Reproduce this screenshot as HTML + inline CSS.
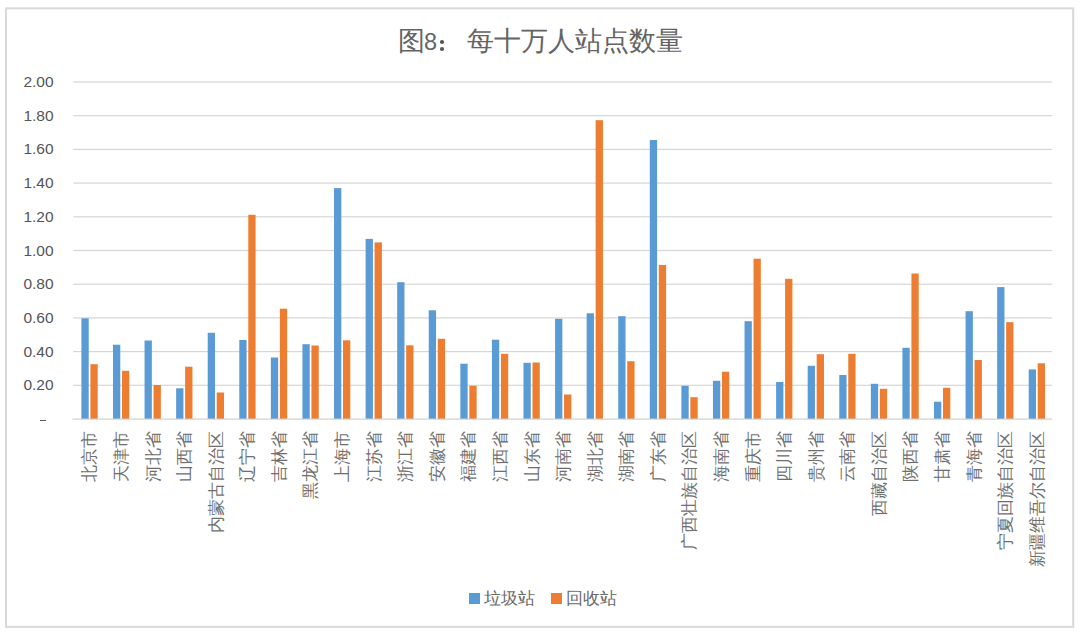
<!DOCTYPE html>
<html><head><meta charset="utf-8"><style>
html,body{margin:0;padding:0;background:#fff;width:1080px;height:633px;overflow:hidden}
body{position:relative;font-family:"Liberation Sans",sans-serif;color:#595959}
.t8{display:inline-block;width:15.01px;font-size:23.5px;position:relative;left:-1.5px}
.tc{display:inline-block;width:27px;height:0;position:relative}
.tc i{position:absolute;left:0.9px;width:3.6px;height:3.6px;border-radius:50%;background:#595959;margin-top:-1.8px}
.title{position:absolute;left:0;width:1080px;top:23.5px;text-align:center;font-size:27px;line-height:34px;color:#646464;white-space:nowrap}
.yl{position:absolute;right:1026.4px;font-size:15.5px;line-height:18px;text-align:right;color:#555555}
.dash{position:absolute;left:40px;top:420px;width:6px;height:1px;background:#595959}
.cat{position:absolute;top:431.2px;width:0;height:0}
.catw{position:absolute;right:0;top:0;transform-origin:100% 0;transform:rotate(-90deg);white-space:nowrap;font-size:17px;line-height:17px;color:#6e6e6e}
svg{position:absolute;left:0;top:0}
.leg{position:absolute;top:589.7px;font-size:17px;line-height:18px;white-space:nowrap;color:#6a6a6a}
.sq{position:absolute;top:593px;width:10.5px;height:10.5px}
</style></head><body>
<div class="title">图<span class="t8">8</span><span class="tc"><i style="top:-7.4px"></i><i style="top:-0.7px"></i></span>每十万人站点数量</div>
<svg width="1080" height="633" viewBox="0 0 1080 633"><rect x="6.0" y="8.35" width="1067.2" height="618.5" fill="none" stroke="#d9d8dc" stroke-width="2"/><rect x="73.3" y="81.40" width="978.90" height="1.2" fill="#d6d6d6"/><rect x="73.3" y="115.10" width="978.90" height="1.2" fill="#d6d6d6"/><rect x="73.3" y="148.80" width="978.90" height="1.2" fill="#d6d6d6"/><rect x="73.3" y="182.50" width="978.90" height="1.2" fill="#d6d6d6"/><rect x="73.3" y="216.20" width="978.90" height="1.2" fill="#d6d6d6"/><rect x="73.3" y="249.90" width="978.90" height="1.2" fill="#d6d6d6"/><rect x="73.3" y="283.60" width="978.90" height="1.2" fill="#d6d6d6"/><rect x="73.3" y="317.30" width="978.90" height="1.2" fill="#d6d6d6"/><rect x="73.3" y="351.00" width="978.90" height="1.2" fill="#d6d6d6"/><rect x="73.3" y="384.70" width="978.90" height="1.2" fill="#d6d6d6"/><rect x="81.40" y="318.30" width="7.3" height="100.70" fill="#5B9BD5"/><rect x="90.40" y="364.20" width="7.3" height="54.80" fill="#ED7D31"/><rect x="112.98" y="344.70" width="7.3" height="74.30" fill="#5B9BD5"/><rect x="121.98" y="370.80" width="7.3" height="48.20" fill="#ED7D31"/><rect x="144.55" y="340.50" width="7.3" height="78.50" fill="#5B9BD5"/><rect x="153.55" y="385.00" width="7.3" height="34.00" fill="#ED7D31"/><rect x="176.13" y="388.30" width="7.3" height="30.70" fill="#5B9BD5"/><rect x="185.13" y="366.70" width="7.3" height="52.30" fill="#ED7D31"/><rect x="207.71" y="332.80" width="7.3" height="86.20" fill="#5B9BD5"/><rect x="216.71" y="392.50" width="7.3" height="26.50" fill="#ED7D31"/><rect x="239.29" y="340.00" width="7.3" height="79.00" fill="#5B9BD5"/><rect x="248.29" y="214.80" width="7.3" height="204.20" fill="#ED7D31"/><rect x="270.86" y="357.50" width="7.3" height="61.50" fill="#5B9BD5"/><rect x="279.86" y="308.70" width="7.3" height="110.30" fill="#ED7D31"/><rect x="302.44" y="344.20" width="7.3" height="74.80" fill="#5B9BD5"/><rect x="311.44" y="345.50" width="7.3" height="73.50" fill="#ED7D31"/><rect x="334.02" y="188.10" width="7.3" height="230.90" fill="#5B9BD5"/><rect x="343.02" y="340.30" width="7.3" height="78.70" fill="#ED7D31"/><rect x="365.60" y="238.90" width="7.3" height="180.10" fill="#5B9BD5"/><rect x="374.60" y="242.40" width="7.3" height="176.60" fill="#ED7D31"/><rect x="397.17" y="282.20" width="7.3" height="136.80" fill="#5B9BD5"/><rect x="406.17" y="345.30" width="7.3" height="73.70" fill="#ED7D31"/><rect x="428.75" y="310.30" width="7.3" height="108.70" fill="#5B9BD5"/><rect x="437.75" y="338.80" width="7.3" height="80.20" fill="#ED7D31"/><rect x="460.33" y="363.70" width="7.3" height="55.30" fill="#5B9BD5"/><rect x="469.33" y="385.80" width="7.3" height="33.20" fill="#ED7D31"/><rect x="491.91" y="339.70" width="7.3" height="79.30" fill="#5B9BD5"/><rect x="500.91" y="353.80" width="7.3" height="65.20" fill="#ED7D31"/><rect x="523.48" y="362.80" width="7.3" height="56.20" fill="#5B9BD5"/><rect x="532.48" y="362.50" width="7.3" height="56.50" fill="#ED7D31"/><rect x="555.06" y="318.80" width="7.3" height="100.20" fill="#5B9BD5"/><rect x="564.06" y="394.50" width="7.3" height="24.50" fill="#ED7D31"/><rect x="586.64" y="313.30" width="7.3" height="105.70" fill="#5B9BD5"/><rect x="595.64" y="120.20" width="7.3" height="298.80" fill="#ED7D31"/><rect x="618.22" y="316.20" width="7.3" height="102.80" fill="#5B9BD5"/><rect x="627.22" y="361.20" width="7.3" height="57.80" fill="#ED7D31"/><rect x="649.79" y="140.00" width="7.3" height="279.00" fill="#5B9BD5"/><rect x="658.79" y="265.00" width="7.3" height="154.00" fill="#ED7D31"/><rect x="681.37" y="385.80" width="7.3" height="33.20" fill="#5B9BD5"/><rect x="690.37" y="397.20" width="7.3" height="21.80" fill="#ED7D31"/><rect x="712.95" y="380.80" width="7.3" height="38.20" fill="#5B9BD5"/><rect x="721.95" y="371.70" width="7.3" height="47.30" fill="#ED7D31"/><rect x="744.53" y="321.20" width="7.3" height="97.80" fill="#5B9BD5"/><rect x="753.53" y="258.70" width="7.3" height="160.30" fill="#ED7D31"/><rect x="776.10" y="382.00" width="7.3" height="37.00" fill="#5B9BD5"/><rect x="785.10" y="278.80" width="7.3" height="140.20" fill="#ED7D31"/><rect x="807.68" y="365.80" width="7.3" height="53.20" fill="#5B9BD5"/><rect x="816.68" y="354.20" width="7.3" height="64.80" fill="#ED7D31"/><rect x="839.26" y="375.00" width="7.3" height="44.00" fill="#5B9BD5"/><rect x="848.26" y="353.80" width="7.3" height="65.20" fill="#ED7D31"/><rect x="870.84" y="383.80" width="7.3" height="35.20" fill="#5B9BD5"/><rect x="879.84" y="388.80" width="7.3" height="30.20" fill="#ED7D31"/><rect x="902.41" y="347.80" width="7.3" height="71.20" fill="#5B9BD5"/><rect x="911.41" y="273.50" width="7.3" height="145.50" fill="#ED7D31"/><rect x="933.99" y="401.70" width="7.3" height="17.30" fill="#5B9BD5"/><rect x="942.99" y="387.80" width="7.3" height="31.20" fill="#ED7D31"/><rect x="965.57" y="311.20" width="7.3" height="107.80" fill="#5B9BD5"/><rect x="974.57" y="360.00" width="7.3" height="59.00" fill="#ED7D31"/><rect x="997.15" y="287.10" width="7.3" height="131.90" fill="#5B9BD5"/><rect x="1006.15" y="322.20" width="7.3" height="96.80" fill="#ED7D31"/><rect x="1028.72" y="369.40" width="7.3" height="49.60" fill="#5B9BD5"/><rect x="1037.72" y="363.30" width="7.3" height="55.70" fill="#ED7D31"/><rect x="72.5" y="418.5" width="979.70" height="1.2" fill="#d0d0d0"/></svg>
<div class="yl" style="top:73.0px">2.00</div><div class="yl" style="top:106.7px">1.80</div><div class="yl" style="top:140.4px">1.60</div><div class="yl" style="top:174.1px">1.40</div><div class="yl" style="top:207.8px">1.20</div><div class="yl" style="top:241.5px">1.00</div><div class="yl" style="top:275.2px">0.80</div><div class="yl" style="top:308.9px">0.60</div><div class="yl" style="top:342.6px">0.40</div><div class="yl" style="top:376.3px">0.20</div>
<div class="dash"></div>
<div class="cat" style="left:81.4px"><div class="catw">北京市</div></div>
<div class="cat" style="left:113.0px"><div class="catw">天津市</div></div>
<div class="cat" style="left:144.5px"><div class="catw">河北省</div></div>
<div class="cat" style="left:176.1px"><div class="catw">山西省</div></div>
<div class="cat" style="left:207.7px"><div class="catw">内蒙古自治区</div></div>
<div class="cat" style="left:239.3px"><div class="catw">辽宁省</div></div>
<div class="cat" style="left:270.9px"><div class="catw">吉林省</div></div>
<div class="cat" style="left:302.4px"><div class="catw">黑龙江省</div></div>
<div class="cat" style="left:334.0px"><div class="catw">上海市</div></div>
<div class="cat" style="left:365.6px"><div class="catw">江苏省</div></div>
<div class="cat" style="left:397.2px"><div class="catw">浙江省</div></div>
<div class="cat" style="left:428.7px"><div class="catw">安徽省</div></div>
<div class="cat" style="left:460.3px"><div class="catw">福建省</div></div>
<div class="cat" style="left:491.9px"><div class="catw">江西省</div></div>
<div class="cat" style="left:523.5px"><div class="catw">山东省</div></div>
<div class="cat" style="left:555.0px"><div class="catw">河南省</div></div>
<div class="cat" style="left:586.6px"><div class="catw">湖北省</div></div>
<div class="cat" style="left:618.2px"><div class="catw">湖南省</div></div>
<div class="cat" style="left:649.8px"><div class="catw">广东省</div></div>
<div class="cat" style="left:681.4px"><div class="catw">广西壮族自治区</div></div>
<div class="cat" style="left:712.9px"><div class="catw">海南省</div></div>
<div class="cat" style="left:744.5px"><div class="catw">重庆市</div></div>
<div class="cat" style="left:776.1px"><div class="catw">四川省</div></div>
<div class="cat" style="left:807.7px"><div class="catw">贵州省</div></div>
<div class="cat" style="left:839.2px"><div class="catw">云南省</div></div>
<div class="cat" style="left:870.8px"><div class="catw">西藏自治区</div></div>
<div class="cat" style="left:902.4px"><div class="catw">陕西省</div></div>
<div class="cat" style="left:934.0px"><div class="catw">甘肃省</div></div>
<div class="cat" style="left:965.6px"><div class="catw">青海省</div></div>
<div class="cat" style="left:997.1px"><div class="catw">宁夏回族自治区</div></div>
<div class="cat" style="left:1028.7px"><div class="catw">新疆维吾尔自治区</div></div>
<div class="sq" style="left:469px;background:#5B9BD5"></div>
<div class="leg" style="left:484px">垃圾站</div>
<div class="sq" style="left:551px;background:#ED7D31"></div>
<div class="leg" style="left:566px">回收站</div>
</body></html>
